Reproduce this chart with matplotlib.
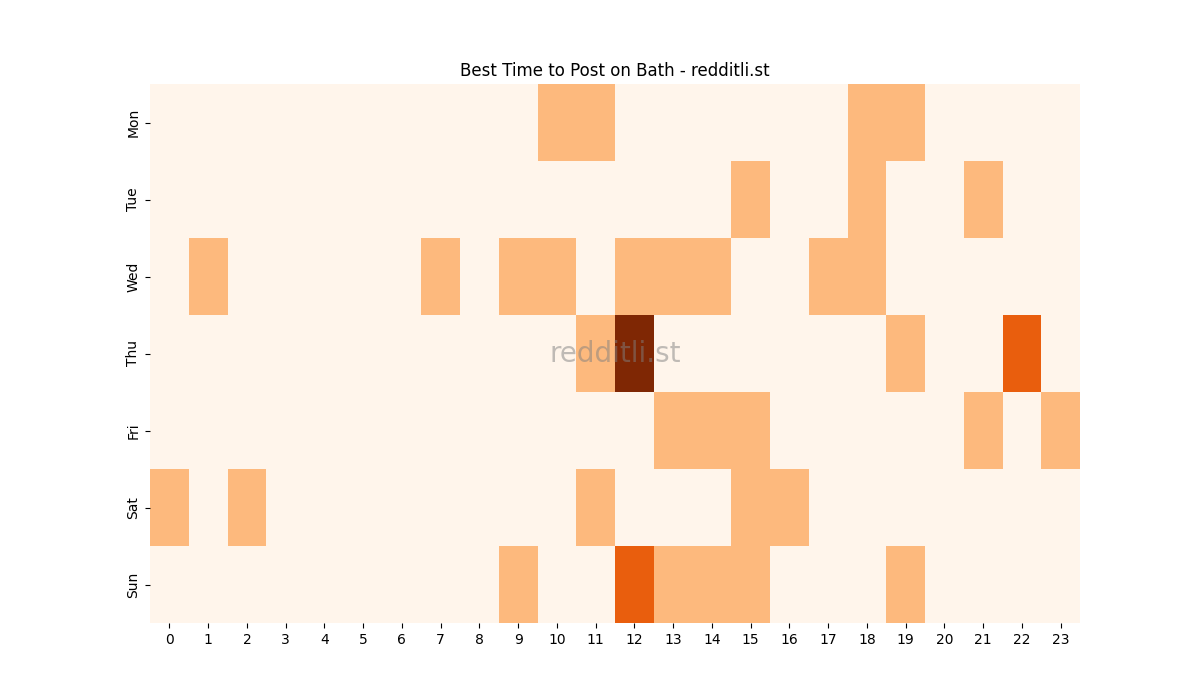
import matplotlib
matplotlib.use("Agg")
import matplotlib.pyplot as plt
import seaborn as sns
import numpy as np
import pandas as pd

days = ["Mon", "Tue", "Wed", "Thu", "Fri", "Sat", "Sun"]
hours = list(range(24))

mon = [0,0,0,0,0,0,0,0,0,0,1,1,0,0,0,0,0,0,1,1,0,0,0,0]
tue = [0,0,0,0,0,0,0,0,0,0,0,0,0,0,0,1,0,0,1,0,0,1,0,0]
wed = [0,1,0,0,0,0,0,1,0,1,1,0,1,1,1,0,0,1,1,0,0,0,0,0]
thu = [0,0,0,0,0,0,0,0,0,0,0,1,3,0,0,0,0,0,0,1,0,0,2,0]
fri = [0,0,0,0,0,0,0,0,0,0,0,0,0,1,1,1,0,0,0,0,0,1,0,1]
sat = [1,0,1,0,0,0,0,0,0,0,0,1,0,0,0,1,1,0,0,0,0,0,0,0]
sun = [0,0,0,0,0,0,0,0,0,1,0,0,2,1,1,1,0,0,0,1,0,0,0,0]

df = pd.DataFrame([mon, tue, wed, thu, fri, sat, sun], index=days, columns=hours)

fig, ax = plt.subplots(figsize=(12, 7), dpi=100)
sns.heatmap(df, cmap="Oranges", cbar=False, ax=ax)
ax.set_title("Best Time to Post on Bath - redditli.st")
ax.set_xlabel("")
ax.set_ylabel("")
ax.text(0.5, 0.5, "redditli.st", transform=ax.transAxes, ha="center", va="center",
        fontsize=20, color="grey", alpha=0.5)
fig.savefig("out.png")
